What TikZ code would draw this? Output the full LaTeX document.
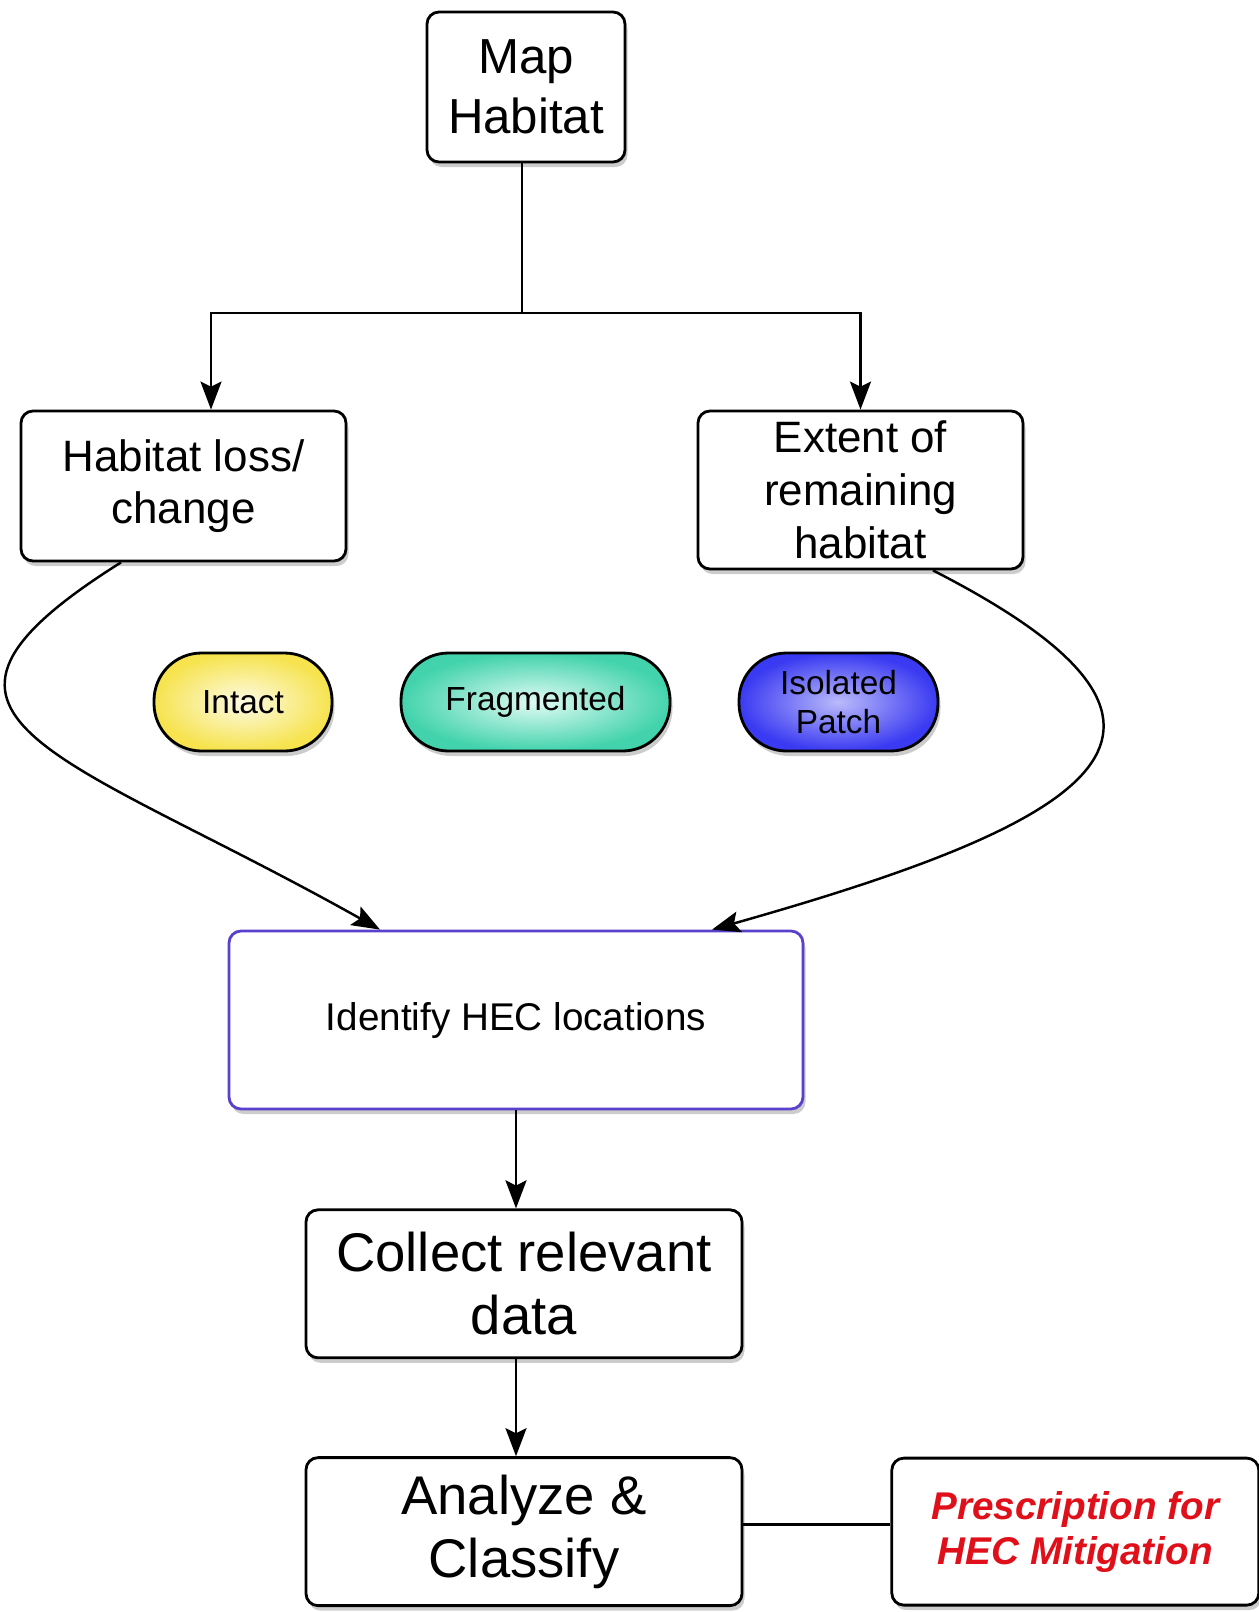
\documentclass[tikz,border=0pt]{standalone}
\usepackage{fontspec}
\setmainfont{Liberation Sans}
\usepackage{tikz}
\usetikzlibrary{positioning}
\usetikzlibrary{arrows.meta}
\usetikzlibrary{shadows}
\usepackage{xcolor}
\definecolor{intactY}{HTML}{F6E34E}
\definecolor{fragG}{HTML}{38E2B4}
\definecolor{isoB}{HTML}{3A3AF2}
\definecolor{hecB}{HTML}{5A40CC}
\definecolor{rxR}{HTML}{E0101A}

\begin{document}
\begin{tikzpicture}[>={Stealth[length=16pt,width=12pt,inset=3pt]}, line width=1.4pt,
    box/.style={draw, rounded corners=0.24cm, fill=white, align=center, inner sep=0pt, line width=1.6pt,
      drop shadow={shadow xshift=0.05cm, shadow yshift=-0.1cm, opacity=0.4}},
    pill/.style={draw, rounded corners=0.95cm, align=center, inner sep=0pt, minimum height=1.96cm,
      line width=1.6pt, font=\fontsize{19}{22}\selectfont,
      drop shadow={shadow xshift=0.05cm, shadow yshift=-0.1cm, opacity=0.4}}]
    \useasboundingbox (0,0) rectangle (25.18,-32.24);

    \node[box, minimum width=3.96cm, minimum height=3cm, font=\fontsize{28}{34}\selectfont] (map) at (10.52,-1.74) {Map\\Habitat};
    \node[box, minimum width=6.5cm, minimum height=3cm, font=\fontsize{25}{30}\selectfont] (loss) at (3.67,-9.72) {Habitat loss/\\change};
    \node[box, minimum width=6.5cm, minimum height=3.16cm, font=\fontsize{25}{30}\selectfont] (extent) at (17.21,-9.80) {Extent of\\remaining\\habitat};

    \node[pill, minimum width=3.56cm, inner color=white!85!intactY, outer color=intactY] (intact) at (4.86,-14.04) {Intact};
    \node[pill, minimum width=5.38cm, inner color=white!85!fragG, outer color=fragG!85!gray] (frag) at (10.71,-14.04) {Fragmented};
    \node[pill, minimum width=3.98cm, inner color=white!65!isoB, outer color=isoB] (isolated) at (16.77,-14.04) {Isolated\\Patch};

    \node[box, draw=hecB, minimum width=11.48cm, minimum height=3.56cm, font=\fontsize{22}{26}\selectfont] (hec) at (10.32,-20.40) {Identify HEC locations};
    \node[box, minimum width=8.72cm, minimum height=2.96cm, font=\fontsize{31}{36}\selectfont, below=1.96cm of hec, xshift=0.16cm] (collect) {Collect relevant\\data};
    \node[box, minimum width=8.72cm, minimum height=2.96cm, font=\fontsize{31}{36}\selectfont, below=1.94cm of collect] (analyze) {Analyze \&\\Classify};
    \node[box, minimum width=7.34cm, minimum height=2.94cm, text=rxR, font=\fontsize{22}{25.5}\selectfont\bfseries\itshape, right=2.94cm of analyze] (rx) {Prescription for\\HEC Mitigation};

    \coordinate (split) at ([xshift=-0.08cm]map.south |- 0,-6.26);
    \draw ([xshift=-0.08cm]map.south) -- (split);
    \draw[->] (split) -| ([xshift=0.55cm]loss.north);
    \draw[->] (split) -| (extent.north);

    % curves into the HEC box
    \draw[->] ([xshift=-1.25cm]loss.south) .. controls (-2.6,-14.4) and (1.2,-15.0) .. ([xshift=-2.72cm]hec.north);
    \draw[->] ([xshift=1.45cm]extent.south) .. controls (24.9,-14.6) and (22,-16.4) .. ([xshift=3.92cm]hec.north);

    \draw[->] (hec.south) -- (hec.south |- collect.north);
    \draw[->] ([xshift=-0.16cm]collect.south) -- ([xshift=-0.16cm]analyze.north);
    \draw ([yshift=0.14cm]analyze.east) -- ([yshift=0.14cm]analyze.east -| rx.west);
\end{tikzpicture}
\end{document}
